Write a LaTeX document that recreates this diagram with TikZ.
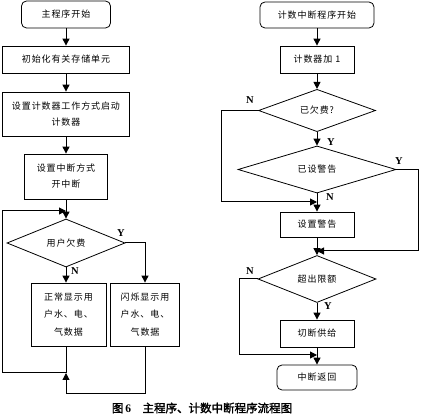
\documentclass[tikz,border=0pt]{standalone}
\usepackage{fontspec}
\usepackage{tikz}
\usetikzlibrary{arrows.meta,shapes.geometric}
\setmainfont{Liberation Serif}
\newfontfamily\cjk[LetterSpace=10]{Noto Sans CJK SC}
\newfontfamily\cjkcap[FakeBold=2]{Noto Sans CJK SC}
\begin{document}
\begin{tikzpicture}[
    x=1pt,y=1pt,
    box/.style={draw,line width=0.8pt,minimum height=27pt,align=center,inner sep=1pt,font=\cjk\fontsize{9}{16}\selectfont},
    startbox/.style={box,rounded corners=5pt},
    choice/.style={draw,line width=0.8pt,diamond,aspect=1,inner sep=0pt,font=\cjk\fontsize{9}{16}\selectfont},
    lbl/.style={font=\bfseries\fontsize{10.5}{12}\selectfont,inner sep=0pt},
    arrow/.style={-{Triangle[length=7pt,width=7pt]},line width=1pt},
    line/.style={line width=1pt}
  ]
    \useasboundingbox (0,0) rectangle (421,418);
    % main program
    \node[startbox,minimum width=89pt] (mstart) at (66,403.5) {主程序开始};
    \node[box,minimum width=127pt] (init) at (66,358.5) {初始化有关存储单元};
    \node[box,minimum width=127pt,minimum height=44pt] (cfg) at (66,304) {设置计数器工作方式启动\\计数器};
    \node[box,minimum width=83pt,minimum height=45pt] (intr) at (66,241.5) {设置中断方式\\开中断};
    \coordinate (m1) at (66,207);
    \node[choice,minimum width=118pt,minimum height=48pt] (owe) at (66,175) {用户欠费};
    \node[box,minimum width=75pt,minimum height=63pt,font=\cjk\fontsize{9}{17.5}\selectfont] (normal) at (68.5,103.5) {正常显示用\\户水、电、\\气数据};
    \node[box,minimum width=69pt,minimum height=63pt,font=\cjk\fontsize{9}{17.5}\selectfont] (flash) at (145,103.5) {闪烁显示用\\户水、电、\\气数据};
    \coordinate (jn) at (66,45);
    \coordinate (lb) at (66,24);
    \coordinate (ll) at (2,207);
    \node[lbl] (ylbl1) at (121,185) {Y};
    \node[lbl] (nlbl1) at (75,147) {N};
    \draw[arrow] (mstart) -- (init);
    \draw[arrow] (init) -- (cfg);
    \draw[arrow] (cfg) -- (intr);
    \draw[arrow] (intr) -- (owe);
    \draw[arrow] (owe.south) -- (owe.south |- normal.north);
    \draw[arrow] (owe.east) -| (flash.north);
    \draw[line] (normal.south -| jn) -- (jn);
    \draw[arrow] (flash.south) |- (lb) -- (jn);
    \draw[arrow] (jn) -| (ll) -- (m1);
    % counter interrupt
    \node[startbox,minimum width=114pt,minimum height=26pt] (istart) at (317,403) {计数中断程序开始};
    \node[box,minimum width=74pt] (inc) at (317,358.5) {计数器加 1};
    \node[choice,minimum width=117pt,minimum height=35pt] (owed) at (317,307.5) {已欠费?};
    \node[choice,minimum width=158pt,minimum height=45pt] (warned) at (317,248.5) {已设警告};
    \coordinate (m2) at (317,216);
    \coordinate (nl1) at (221,216);
    \node[box,minimum width=74pt,minimum height=25pt] (setw) at (317,193.5) {设置警告};
    \coordinate (m3) at (317,167);
    \coordinate (yr) at (418,167);
    \node[choice,minimum width=118pt,minimum height=44pt] (over) at (317,139) {超出限额};
    \node[box,minimum width=74pt] (cut) at (317,84.5) {切断供给};
    \coordinate (m4) at (317,63);
    \coordinate (nl2) at (239,63);
    \node[startbox,minimum width=80pt,minimum height=25pt] (iret) at (317,40.5) {中断返回};
    \node[lbl] (nlbl2) at (250,318) {N};
    \node[lbl] (ylbl2) at (331,276) {Y};
    \node[lbl] (ylbl3) at (399,257) {Y};
    \node[lbl] (nlbl3) at (330,221) {N};
    \node[lbl] (nlbl4) at (250,147) {N};
    \node[lbl] (ylbl4) at (328,112) {Y};
    \draw[arrow] (istart) -- (inc);
    \draw[arrow] (inc) -- (owed);
    \draw[arrow] (owed) -- (warned);
    \draw[arrow] (warned) -- (setw);
    \draw[arrow] (owed.west) -| (nl1) -- (m2);
    \draw[arrow] (warned.east) -| (yr) -- (m3);
    \draw[arrow] (setw) -- (over);
    \draw[arrow] (over) -- (cut);
    \draw[arrow] (over.west) -| (nl2) -- (m4);
    \draw[arrow] (cut) -- (iret);
    % caption
    \node[inner sep=0pt] (cap) at (202,10) {\fontsize{11.5}{13}\selectfont{\cjkcap 图}\,{\bfseries 6}\quad{\cjkcap 主程序、计数中断程序流程图}};
\end{tikzpicture}
\end{document}
